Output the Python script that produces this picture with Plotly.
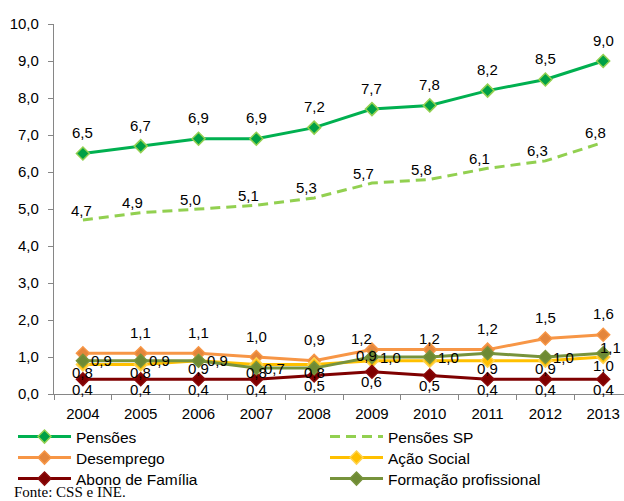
import plotly.graph_objects as go

# Despesa por prestação (% do PIB), 2004-2013
years = ["2004", "2005", "2006", "2007", "2008", "2009", "2010", "2011", "2012", "2013"]

pensoes = [6.5, 6.7, 6.9, 6.9, 7.2, 7.7, 7.8, 8.2, 8.5, 9.0]
pensoes_sp = [4.7, 4.9, 5.0, 5.1, 5.3, 5.7, 5.8, 6.1, 6.3, 6.8]
desemprego = [1.1, 1.1, 1.1, 1.0, 0.9, 1.2, 1.2, 1.2, 1.5, 1.6]
acao_social = [0.8, 0.8, 0.9, 0.8, 0.8, 0.9, 0.9, 0.9, 0.9, 1.0]
abono_familia = [0.4, 0.4, 0.4, 0.4, 0.5, 0.6, 0.5, 0.4, 0.4, 0.4]
formacao_prof = [0.9, 0.9, 0.9, 0.7, 0.7, 1.0, 1.0, 1.1, 1.0, 1.1]

# years whose value label is not shown (hidden behind other series)
hidden_labels = {
    "Desemprego": ["2004"],
    "Ação Social": ["2010"],
    "Formação profissional": ["2008", "2011"],
}

# individual label placements that differ from the series default (px shifts)
label_nudges = {
    ("Pensões SP", "2004"): dict(xshift=-1),
    ("Desemprego", "2009"): dict(xshift=-10, yshift=11),
    ("Desemprego", "2010"): dict(yshift=11),
    ("Ação Social", "2009"): dict(xshift=-5, yshift=5),
    ("Formação profissional", "2013"): dict(xshift=7, yshift=6, xanchor="center"),
}

FONT = "Liberation Sans, Arial, sans-serif"

series = [
    dict(name="Pensões", y=pensoes, color="#00B050", mfill="#00A046", mline="#92D050",
         dash="solid", markers=True, legend="legend",
         lab=dict(xshift=0, yshift=21, xanchor="center")),
    dict(name="Pensões SP", y=pensoes_sp, color="#92D050", mfill=None, mline=None,
         dash="10px,6px", markers=False, legend="legend",
         lab=dict(xshift=-8, yshift=10, xanchor="center")),
    dict(name="Desemprego", y=desemprego, color="#F79646", mfill="#E4863C", mline="#F79646",
         dash="solid", markers=True, legend="legend2",
         lab=dict(xshift=0, yshift=21, xanchor="center")),
    dict(name="Ação Social", y=acao_social, color="#FFC000", mfill="#FFC000", mline="#FFD24D",
         dash="solid", markers=True, legend="legend2",
         lab=dict(xshift=0, yshift=-8, xanchor="center")),
    dict(name="Abono de Família", y=abono_familia, color="#7F0000", mfill="#7F0000", mline="#8B0A0A",
         dash="solid", markers=True, legend="legend3",
         lab=dict(xshift=0, yshift=-10, xanchor="center")),
    dict(name="Formação profissional", y=formacao_prof, color="#77933C", mfill="#6E8A34", mline="#77933C",
         dash="solid", markers=True, legend="legend3",
         lab=dict(xshift=6, yshift=0, xanchor="left")),
]

fig = go.Figure()
annotations = []

for s in series:
    mode = "lines+markers" if s["markers"] else "lines"
    kw = {}
    if s["markers"]:
        kw["marker"] = dict(symbol="diamond", size=10, color=s["mfill"],
                            line=dict(color=s["mline"], width=1.5))
    fig.add_trace(go.Scatter(
        x=years, y=s["y"], name=s["name"], mode=mode, legend=s["legend"],
        line=dict(color=s["color"], width=3, dash=s["dash"]),
        hoverinfo="skip", **kw))
    skip = hidden_labels.get(s["name"], [])
    for i, (yr, v) in enumerate(zip(years, s["y"])):
        if yr in skip:
            continue
        place = dict(s["lab"])
        place.update(label_nudges.get((s["name"], yr), {}))
        annotations.append(dict(
            x=i, y=v, xref="x", yref="y", showarrow=False,
            text=f"{v:.1f}".replace(".", ","),
            font=dict(family=FONT, size=15, color="#000000"),
            yanchor="middle", **place))

W, H = 624, 501
ML, MT, MB = 54, 24, 107
PW, PH = W - ML, H - MT - MB


def px_x(px):
    return (px - ML) / PW


def px_y(py):
    return (H - MB - py) / PH


annotations.append(dict(
    x=px_x(12), y=px_y(492), xref="paper", yref="paper", showarrow=False,
    text="Fonte: CSS e INE.", xanchor="left", yanchor="middle",
    font=dict(family="Liberation Serif, Times New Roman, serif", size=15, color="#000000")))

legend_style = dict(
    orientation="h", x=px_x(13), xanchor="left", yanchor="middle",
    entrywidth=244, entrywidthmode="pixels", itemwidth=53,
    font=dict(family=FONT, size=15.5, color="#000000"),
    bgcolor="rgba(0,0,0,0)")

fig.update_layout(
    width=W, height=H,
    margin=dict(l=ML, r=0, t=MT, b=MB, pad=0, autoexpand=False),
    paper_bgcolor="white", plot_bgcolor="white",
    separators=",.",
    font=dict(family=FONT, size=15, color="#000000"),
    showlegend=True,
    legend=dict(legend_style, y=px_y(437)),
    legend2=dict(legend_style, y=px_y(458)),
    legend3=dict(legend_style, y=px_y(479)),
    annotations=annotations,
)

fig.update_xaxes(
    type="category", range=[-0.5, (W - 83) / 57.8], showgrid=False,
    showline=True, linecolor="#868686", linewidth=1.3,
    ticks="outside", tickson="boundaries", ticklen=5, tickcolor="#868686",
    tickfont=dict(family=FONT, size=15, color="#000000"), ticklabelstandoff=6,
    zeroline=False)

fig.update_yaxes(
    range=[0, 10], dtick=1, tickformat=".1f", showgrid=False,
    showline=True, linecolor="#868686", linewidth=1.3,
    ticks="outside", ticklen=5, tickcolor="#868686",
    tickfont=dict(family=FONT, size=15, color="#000000"), ticklabelstandoff=6,
    zeroline=False)

fig.write_html("out.html")
